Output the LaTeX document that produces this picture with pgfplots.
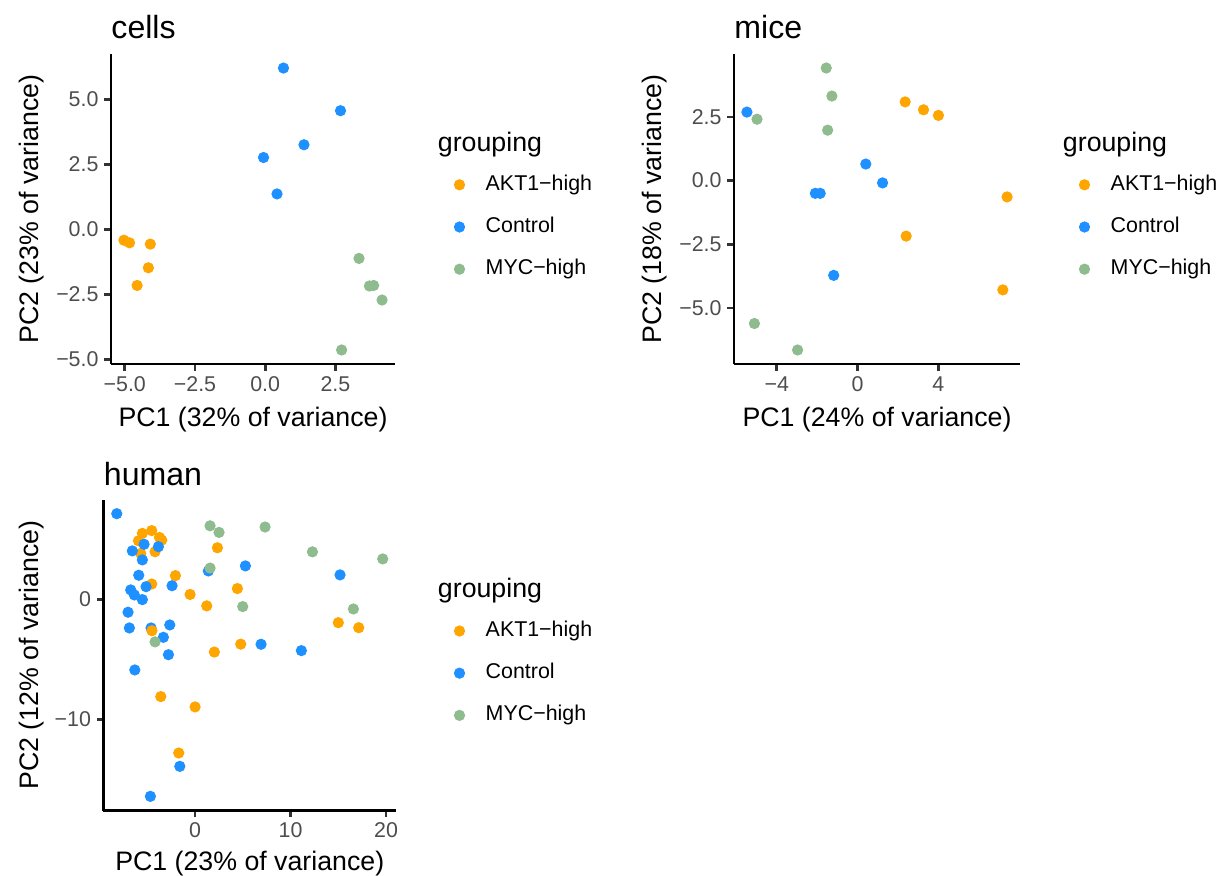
\documentclass[border=0pt]{standalone}
\usepackage{fontspec}
\setmainfont{Liberation Sans}
\usepackage{pgfplots}
\pgfplotsset{compat=1.18}

\definecolor{akt}{HTML}{FFA500}
\definecolor{ctrl}{HTML}{1E90FF}
\definecolor{myc}{HTML}{8FBC8F}
\definecolor{ticktext}{HTML}{4D4D4D}
\definecolor{tickline}{HTML}{333333}

\tikzset{
  ttl/.style={font=\fontsize{13.2}{15}\selectfont, inner sep=0pt, anchor=base west},
  lab/.style={font=\fontsize{11}{13}\selectfont, inner sep=0pt},
}

\pgfplotsset{
  grp/.style={only marks, mark=*, mark size=2.1pt, color=#1},
  pca/.style={
    scale only axis,
    clip=false,
    axis x line*=bottom, axis y line*=left,
    axis line style={-, line width=1.07pt, black},
    tick align=outside,
    major tick length=2.75pt,
    tick style={tickline, line width=1.07pt},
    minor tick num=0,
    tick label style={font=\fontsize{8.8}{10}\selectfont, text=ticktext, inner sep=0pt},
    xticklabel style={yshift=-2.2pt},
    yticklabel style={xshift=-2.2pt},
    legend style={draw=none, fill=none, inner sep=0pt, outer sep=0pt,
      font=\fontsize{8.8}{10}\selectfont, anchor=north west,
      nodes={inner sep=0pt, text height=6.4pt, text depth=1.9pt},
      row sep=9.06pt, column sep=8.69pt},
    legend cell align=left,
    legend image code/.code={\draw[##1] plot coordinates {(0pt,0pt)};},
  },
}

\begin{document}
\begin{tikzpicture}
\path[use as bounding box] (0,0) rectangle (503.59pt,360pt);

% cells
\begin{axis}[pca,
  at={(45.669pt,210.24pt)}, anchor=south west,
  width=116.846pt, height=127.54pt,
  xmin=-5.49, xmax=4.62, ymin=-5.18, ymax=6.74,
  xtick={-5,-2.5,0,2.5}, xticklabels={−5.0,−2.5,0.0,2.5},
  ytick={-5,-2.5,0,2.5,5}, yticklabels={−5.0,−2.5,0.0,2.5,5.0},
  title={cells},
  every axis title/.style={ttl, at={(axis description cs:0,1.0516)}},
  xlabel={PC1 (32\% of variance)}, ylabel={PC2 (23\% of variance)},
  every axis x label/.style={lab, at={(axis description cs:0.5,-0.2032)}, anchor=base},
  every axis y label/.style={lab, at={(axis description cs:-0.2560,0.5)}, rotate=90, anchor=base},
  legend style={at={(axis description cs:1.2092,0.6106)}},
]
\addplot[grp=akt] coordinates {(-5.03,-0.42) (-4.83,-0.52) (-4.09,-0.57) (-4.16,-1.48) (-4.56,-2.16)};
\addplot[grp=ctrl] coordinates {(0.65,6.20) (2.68,4.56) (1.38,3.25) (-0.06,2.76) (0.42,1.36)};
\addplot[grp=myc] coordinates {(3.34,-1.12) (3.71,-2.18) (3.86,-2.16) (4.16,-2.72) (2.72,-4.64)};
\legend{AKT1−high,Control,MYC−high}
\node[lab, anchor=base west] at (axis description cs:1.1496,0.6871) {grouping};
\end{axis}

% mice
\begin{axis}[pca,
  at={(301.99pt,210.24pt)}, anchor=south west,
  width=117.67pt, height=127.54pt,
  xmin=-6.12, xmax=8.05, ymin=-7.20, ymax=4.97,
  xtick={-4,0,4}, xticklabels={−4,0,4},
  ytick={-5,-2.5,0,2.5}, yticklabels={−5.0,−2.5,0.0,2.5},
  title={mice},
  every axis title/.style={ttl, at={(axis description cs:0,1.0516)}},
  xlabel={PC1 (24\% of variance)}, ylabel={PC2 (18\% of variance)},
  every axis x label/.style={lab, at={(axis description cs:0.5,-0.2000)}, anchor=base},
  every axis y label/.style={lab, at={(axis description cs:-0.2542,0.5)}, rotate=90, anchor=base},
  legend style={at={(axis description cs:1.2077,0.6106)}},
]
\addplot[grp=akt] coordinates {(2.36,3.09) (3.27,2.78) (4.01,2.56) (7.41,-0.64) (2.41,-2.18) (7.20,-4.29)};
\addplot[grp=ctrl] coordinates {(-5.48,2.69) (0.41,0.65) (1.24,-0.09) (-2.09,-0.50) (-1.85,-0.50) (-1.18,-3.72)};
\addplot[grp=myc] coordinates {(-4.98,2.41) (-1.55,4.42) (-1.27,3.32) (-1.48,1.98) (-5.11,-5.61) (-2.97,-6.65)};
\legend{AKT1−high,Control,MYC−high}
\node[lab, anchor=base west] at (axis description cs:1.1486,0.6871) {grouping};
\end{axis}

% human
\begin{axis}[pca,
  at={(42.583pt,26.537pt)}, anchor=south west,
  width=120.34pt, height=127.95pt,
  xmin=-9.59, xmax=21.04, ymin=-17.60, ymax=8.31,
  xtick={0,10,20}, xticklabels={0,10,20},
  ytick={-10,0}, yticklabels={−10,0},
  title={human},
  every axis title/.style={ttl, at={(axis description cs:0,1.0466)}},
  xlabel={PC1 (23\% of variance)}, ylabel={PC2 (12\% of variance)},
  every axis x label/.style={lab, at={(axis description cs:0.5,-0.1945)}, anchor=base},
  every axis y label/.style={lab, at={(axis description cs:-0.2229,0.5)}, rotate=90, anchor=base},
  legend style={at={(axis description cs:1.1997,0.6097)}},
]
\addplot[grp=akt] coordinates {
  (-5.52,5.49) (-4.54,5.72) (-3.73,5.15) (-3.49,4.93) (-5.93,4.87) (-4.19,3.96) (-5.69,3.82)
  (2.34,4.29) (-2.06,1.97) (-4.54,1.27) (-0.52,0.40) (4.43,0.89) (1.22,-0.55)
  (2.02,-4.40) (4.78,-3.74) (-3.59,-8.11) (0.00,-8.97) (-1.71,-12.81)
  (15.00,-1.95) (17.14,-2.37)};
\addplot[grp=ctrl] coordinates {
  (-8.20,7.13) (-5.34,4.58) (-3.84,4.38) (-6.57,4.03) (-5.52,3.28) (1.39,2.36) (5.27,2.78)
  (-5.90,2.00) (-5.13,1.05) (-2.41,1.13) (-6.74,0.78) (-6.36,0.36) (-5.52,-0.03)
  (-7.02,-1.08) (-6.88,-2.39) (-4.61,-2.39) (-2.65,-2.14) (-3.32,-3.17) (-2.79,-4.62)
  (-6.31,-5.89) (6.91,-3.75) (11.13,-4.28) (15.18,2.03) (-1.60,-13.92) (-4.68,-16.42)};
\addplot[grp=akt, forget plot] coordinates {(-4.52,-2.62)};
\addplot[grp=myc] coordinates {
  (1.57,6.12) (2.51,5.57) (1.57,2.60) (4.99,-0.61) (-4.19,-3.55)
  (7.33,6.02) (12.29,3.95) (19.65,3.36) (16.58,-0.81)};
\legend{AKT1−high,Control,MYC−high}
\node[lab, anchor=base west] at (axis description cs:1.1419,0.6865) {grouping};
\end{axis}
\end{tikzpicture}
\end{document}
